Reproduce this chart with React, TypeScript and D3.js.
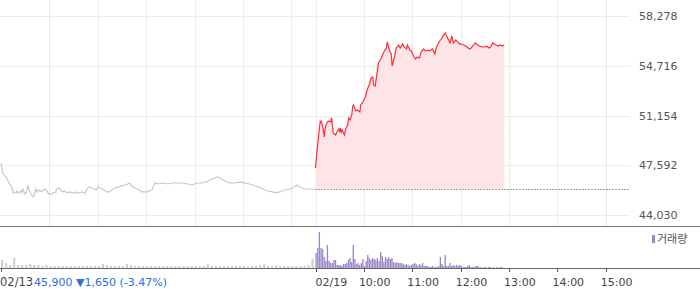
import React from "react";
import * as d3 from "d3";

// ---- data ----
const prevDateLabel = "02/13";
const todayDateLabel = "02/19";
const hourLabels = ["10:00", "11:00", "12:00", "13:00", "14:00", "15:00"];
const priceTicks = [44030, 47592, 51154, 54716, 58278];
const prevClose = 45900;
const summaryPrice = "45,900";
const summaryChange = "▼1,650 (-3.47%)";
const legendLabel = "거래량";

// previous session (minutes after 09:00)
const prevMinutes = [0, 2, 4, 7, 10, 14, 15, 16, 19, 20, 22, 25, 26, 27, 30, 32, 33, 36, 38, 40, 42, 43, 45, 47, 50, 52, 55, 57, 58, 61, 63, 64, 68, 69, 72, 74, 77, 79, 82, 86, 89, 92, 94, 97, 100, 104, 107, 109, 113, 115, 118, 120, 123, 126, 131, 134, 141, 150, 154, 160, 162, 169, 175, 181, 187, 191, 195, 201, 207, 213, 218, 224, 231, 237, 243, 249, 253, 257, 262, 265, 268, 272, 275, 280, 284, 290, 296, 303, 308, 312, 319, 325, 331, 337, 341, 346, 352, 358, 362, 367, 370, 373, 377, 383, 389];
const prevPrices = [47750, 47040, 46890, 46680, 46320, 45960, 45610, 45680, 45610, 45750, 45610, 45750, 45610, 45890, 45530, 45680, 46180, 45680, 45460, 45320, 45610, 45890, 45680, 45820, 45680, 45820, 45890, 45750, 45610, 45530, 45530, 45610, 45680, 45890, 45960, 45820, 45680, 45750, 45610, 45680, 45610, 45610, 45680, 45610, 45680, 45610, 45890, 46040, 45960, 45890, 45820, 46040, 45960, 45890, 45680, 45680, 45960, 46110, 46180, 46320, 46110, 45890, 45680, 45680, 45820, 46320, 46250, 46320, 46250, 46320, 46320, 46320, 46250, 46180, 46320, 46320, 46390, 46460, 46610, 46680, 46750, 46680, 46540, 46390, 46320, 46320, 46390, 46320, 46250, 46180, 46040, 45890, 45750, 45680, 45610, 45680, 45820, 45890, 45960, 46180, 46040, 45960, 45890, 45890, 45890];

// today's session (minutes after 09:00)
const todayMinutes = [0, 1, 5, 6, 7, 9, 11, 12, 14, 16, 19, 20, 21, 22, 25, 26, 29, 30, 31, 32, 33, 36, 37, 38, 40, 41, 43, 45, 46, 47, 50, 52, 55, 56, 58, 60, 62, 63, 64, 67, 69, 71, 72, 74, 76, 78, 81, 82, 83, 86, 88, 89, 92, 94, 95, 98, 100, 103, 105, 108, 110, 113, 114, 117, 119, 122, 124, 126, 129, 131, 134, 136, 139, 141, 145, 148, 150, 154, 156, 159, 161, 162, 165, 167, 169, 171, 174, 176, 179, 181, 184, 186, 188, 191, 193, 196, 198, 201, 203, 207, 210, 212, 215, 217, 220, 222, 224, 227, 229, 232, 234];
const todayPrices = [47400, 48110, 50330, 50760, 50760, 50330, 49620, 50260, 50620, 50760, 50690, 50980, 50470, 49900, 49760, 49900, 50190, 49970, 50260, 49970, 50120, 49760, 50120, 50260, 50470, 50980, 50830, 51190, 51760, 51910, 51480, 51550, 51400, 51910, 52050, 52260, 52480, 52770, 52980, 53410, 53840, 53910, 53340, 53270, 54050, 54910, 55200, 55270, 55490, 55840, 55990, 56420, 55770, 55560, 54700, 55340, 55990, 56200, 55990, 56270, 56060, 55920, 56200, 55840, 55770, 55340, 55200, 55340, 55270, 55700, 55920, 55770, 55840, 55770, 55920, 55560, 56060, 56490, 56630, 56920, 57060, 56920, 56560, 56350, 56850, 56350, 56560, 56420, 56270, 56270, 56200, 56130, 56060, 55920, 55990, 56200, 56350, 56200, 56130, 56060, 56060, 56130, 55990, 56060, 56350, 56270, 56200, 56130, 56200, 56130, 56200];

// volume (thousand shares); previous session per 5 minutes, today per 2 minutes
const prevVolume = [8, 5, 3, 10, 3, 3, 3, 4, 3, 3, 2, 3, 2, 2, 2, 2, 2, 2, 2, 2, 2, 2, 2, 2, 2, 4, 3, 2, 2, 2, 2, 4, 3, 2, 2, 2, 2, 2, 2, 2, 2, 2, 2, 2, 2, 2, 2, 2, 2, 2, 2, 4, 2, 2, 2, 2, 2, 2, 2, 2, 2, 1, 2, 2, 3, 4, 2, 2, 3, 2, 2, 2, 2, 2, 2, 2, 3, 9];
const todayVolume = [15, 20, 36, 20, 19, 11, 7, 23, 7, 5, 5, 8, 8, 3, 3, 3, 2, 4, 4, 5, 8, 10, 6, 23, 9, 4, 5, 3, 5, 9, 2, 7, 13, 10, 8, 10, 9, 8, 10, 7, 16, 12, 6, 11, 9, 11, 9, 10, 6, 5, 6, 5, 5, 5, 4, 3, 4, 3, 2, 3, 4, 5, 4, 2, 4, 3, 5, 2, 2, 2, 1, 1, 2, 1, 1, 1, 2, 11, 4, 2, 13, 2, 2, 5, 2, 3, 2, 3, 2, 3, 2, 1, 1, 1, 2, 3, 1, 1, 1, 2, 2, 1, 1, 0, 1, 1, 0, 1, 1, 0, 1, 0, 1, 0, 1, 1, 0];

const W = 700;
const H = 289;
const SESSION = 390;

export default function App() {
  const x = d3.scaleLinear().domain([0, SESSION * 2]).range([1, 630]);
  const y = d3.scaleLinear().domain([44030, 58278]).range([215, 16]);
  const v = d3.scaleLinear().domain([0, 41]).range([268, 227]);

  const prevData = prevMinutes.map((m, i) => ({ m, p: prevPrices[i] }));
  const todayData = todayMinutes.map((m, i) => ({ m: m + SESSION, p: todayPrices[i] }));

  const line = d3
    .line<{ m: number; p: number }>()
    .x((d) => x(d.m))
    .y((d) => y(d.p));
  const area = d3
    .area<{ m: number; p: number }>()
    .x((d) => x(d.m))
    .y0(y(prevClose))
    .y1((d) => y(d.p));

  const gridMinutes = [60, 120, 180, 240, 300, 360, 390, 450, 510, 570, 630, 690, 750];
  const hourMinutes = [450, 510, 570, 630, 690, 750];
  const tickMinutes = [0, 390, ...hourMinutes];

  const font = "'DejaVu Sans', Verdana, sans-serif";

  return (
    <svg
      width={W}
      height={H}
      style={{ position: "absolute", left: 0, top: 0, background: "#fff" }}
      fontFamily={font}
    >
      {/* grid */}
      {priceTicks.map((t) => (
        <line key={"h" + t} x1={0} x2={630} y1={Math.round(y(t)) + 0.5} y2={Math.round(y(t)) + 0.5} stroke="#ebebeb" />
      ))}
      {gridMinutes.map((m) => (
        <line key={"v" + m} x1={Math.round(x(m)) + 0.5} x2={Math.round(x(m)) + 0.5} y1={0} y2={226} stroke="#ebebeb" />
      ))}

      {/* today area + line */}
      <path d={area(todayData) || ""} fill="#fde4e7" />
      <line x1={x(SESSION)} x2={630} y1={Math.round(y(prevClose)) + 0.5} y2={Math.round(y(prevClose)) + 0.5} stroke="#444" strokeDasharray="1,2" />
      <path d={line(prevData) || ""} fill="none" stroke="#c8c8c8" strokeWidth={1.2} />
      <path d={line(todayData) || ""} fill="none" stroke="#ff2d3c" strokeWidth={1.2} />

      {/* price axis labels */}
      {priceTicks.map((t) => (
        <text key={"l" + t} x={639} y={y(t) + 4} fontSize={11} fill="#555">
          {d3.format(",")(t)}
        </text>
      ))}

      {/* separator */}
      <line x1={0} x2={W} y1={226.5} y2={226.5} stroke="#777" />

      {/* volume bars */}
      {prevVolume.map((val, i) => (
        <rect
          key={"pv" + i}
          x={x(i * 5)}
          width={2.2}
          y={v(val)}
          height={v(0) - v(val)}
          fill="#d0d0d0"
        />
      ))}
      {todayVolume.map((val, i) => (
        <rect
          key={"tv" + i}
          x={x(SESSION + i * 2)}
          width={x(2) - x(0) - 0.3}
          y={v(val)}
          height={v(0) - v(val)}
          fill="#9a86c5"
        />
      ))}
      <line x1={0} x2={W} y1={268.5} y2={268.5} stroke="#666" />
      {tickMinutes.map((m) => (
        <line key={"t" + m} x1={Math.round(x(m)) + 0.5} x2={Math.round(x(m)) + 0.5} y1={268} y2={272} stroke="#555" />
      ))}

      {/* legend */}
      <rect x={652} y={235} width={3} height={8} fill="#9a86c5" />
      <text x={657} y={243} fontSize={11} fill="#555" fontFamily="'Noto Sans CJK KR', sans-serif">
        {legendLabel}
      </text>

      {/* x labels */}
      <text x={0} y={286} fontSize={11.5} fill="#444">
        {prevDateLabel}
      </text>
      <text x={34} y={286} fontSize={11} fill="#2a6fdb">
        {summaryPrice} {summaryChange}
      </text>
      <text x={x(SESSION)} y={286} fontSize={11} fill="#444">
        {todayDateLabel}
      </text>
      {hourMinutes.map((m, i) => (
        <text key={"x" + m} x={x(m) - 5} y={286} fontSize={11} fill="#444">
          {hourLabels[i]}
        </text>
      ))}
    </svg>
  );
}
